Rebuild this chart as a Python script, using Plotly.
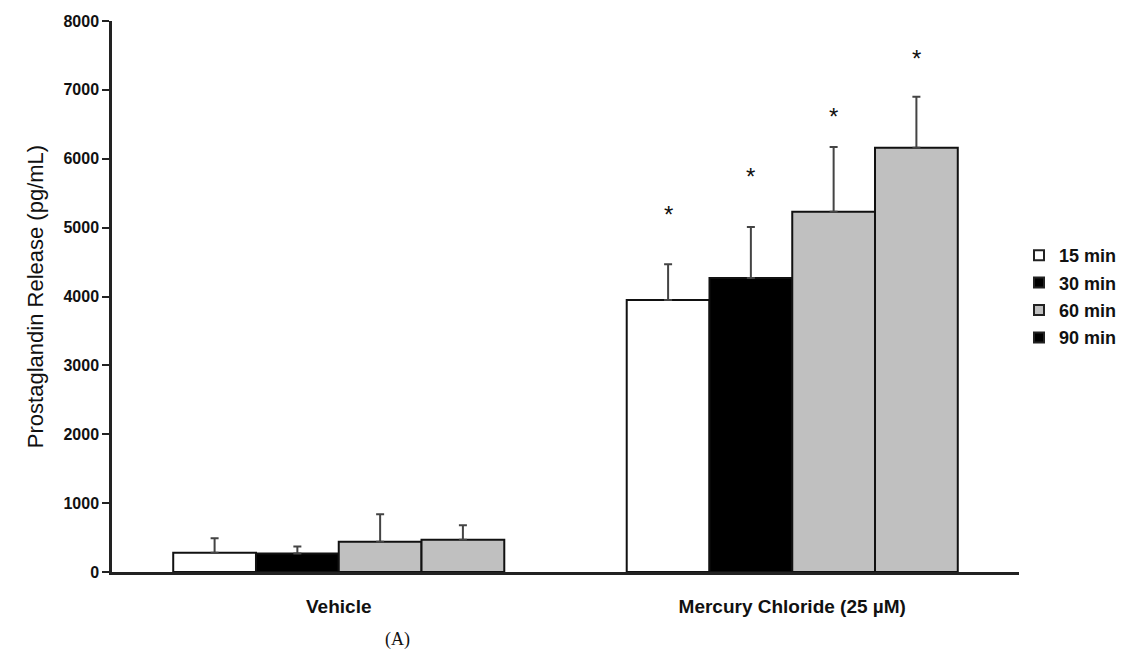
import plotly.graph_objects as go

# Treatment groups and sampling times
groups = ["Vehicle", "Mercury Chloride (25 µM)"]
times = ["15 min", "30 min", "60 min", "90 min"]

# Mean prostaglandin release (pg/mL) per time point: [Vehicle, Mercury Chloride]
mean_15 = [280, 3950]
mean_30 = [270, 4270]
mean_60 = [440, 5230]
mean_90 = [470, 6160]

# Upper error (SEM) per time point
err_15 = [210, 520]
err_30 = [100, 740]
err_60 = [400, 940]
err_90 = [210, 740]

# Significance markers on the mercury chloride bars
sig_labels = ["*", "*", "*", "*"]

means = [mean_15, mean_30, mean_60, mean_90]
errs = [err_15, err_30, err_60, err_90]
bar_fill = ["#ffffff", "#000000", "#c0c0c0", "#c0c0c0"]
legend_fill = ["#ffffff", "#000000", "#c0c0c0", "#000000"]

FONT = "Liberation Sans, Arial, sans-serif"
BARGAP = 0.27

fig = go.Figure()
x_idx = list(range(len(groups)))

for k, t in enumerate(times):
    fig.add_trace(go.Bar(
        x=x_idx, y=means[k], name=t, showlegend=False,
        marker=dict(color=bar_fill[k], line=dict(color="#111111", width=2)),
        error_y=dict(type="data", symmetric=False, array=errs[k],
                     arrayminus=[0] * len(groups),
                     color="#444444", thickness=2, width=4),
    ))

# Legend swatches
for k, t in enumerate(times):
    fig.add_trace(go.Scatter(
        x=[None], y=[None], mode="markers", name=t, legendgroup=t,
        marker=dict(symbol="square", size=10, color=legend_fill[k],
                    line=dict(color="#222222", width=2)),
    ))

# Asterisks above the mercury chloride bars
bar_w = (1 - BARGAP) / len(times)
star_y = [5240, 5780, 6660, 7500]
for k in range(len(times)):
    fig.add_annotation(
        x=1 + (k - (len(times) - 1) / 2) * bar_w, y=star_y[k],
        text=sig_labels[k], showarrow=False, yanchor="middle", yshift=-3,
        font=dict(family=FONT, size=24, color="#111111"),
    )

fig.add_annotation(
    x=(397 - 112) / 907, y=-0.123, xref="paper", yref="paper",
    text="(A)", showarrow=False, xanchor="center", yanchor="middle",
    font=dict(family="Liberation Serif, Times New Roman, serif", size=18, color="#111111"),
)

fig.update_layout(
    width=1122, height=653,
    margin=dict(l=112, r=103, t=21, b=81, autoexpand=False),
    paper_bgcolor="white", plot_bgcolor="white",
    barmode="group", bargap=BARGAP, bargroupgap=0,
    font=dict(family=FONT, color="#111111"),
    legend=dict(x=1.0, y=0.5, xanchor="left", yanchor="middle",
                font=dict(family=FONT, size=18, color="#111111", weight="bold"),
                tracegroupgap=1, bgcolor="rgba(0,0,0,0)"),
    xaxis=dict(
        range=[-0.5, 1.5], tickvals=x_idx, ticktext=groups,
        showline=True, linecolor="#222222", linewidth=2.5,
        ticks="", showgrid=False, zeroline=False,
        tickfont=dict(family=FONT, size=19, color="#111111", weight="bold"),
        ticklabelstandoff=15,
    ),
    yaxis=dict(
        range=[0, 8000], tickvals=[0, 1000, 2000, 3000, 4000, 5000, 6000, 7000, 8000],
        showline=True, linecolor="#222222", linewidth=2.5,
        ticks="outside", ticklen=7, tickwidth=2, tickcolor="#222222",
        showgrid=False, zeroline=False,
        tickfont=dict(family=FONT, size=16, color="#111111", weight="bold"),
        ticklabelstandoff=0,
        title=dict(text="Prostaglandin Release (pg/mL)", standoff=14,
                   font=dict(family=FONT, size=22, color="#111111")),
    ),
)

fig.write_html("out.html")
